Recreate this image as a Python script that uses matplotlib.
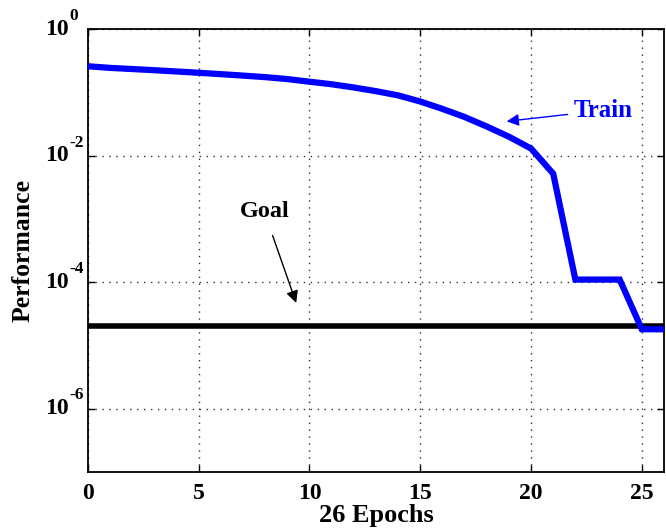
import matplotlib
matplotlib.use("Agg")
import matplotlib.pyplot as plt
from matplotlib.ticker import FixedLocator, NullLocator
from matplotlib.transforms import blended_transform_factory

plt.rcParams['font.family'] = ['Liberation Serif', 'DejaVu Serif']
plt.rcParams['font.weight'] = 'bold'

# training performance per epoch
epochs = list(range(27))
train = [0.26, 0.245, 0.235, 0.225, 0.215, 0.205, 0.195, 0.185, 0.175, 0.163,
         0.148, 0.135, 0.12, 0.105, 0.09, 0.072, 0.055, 0.041, 0.029, 0.020,
         0.013, 0.0052, 1.1e-4, 1.1e-4, 1.1e-4, 1.8e-5, 1.8e-5]
goal = 2e-5

xticks = [0, 5, 10, 15, 20, 25]
yticks = [1e-6, 1e-4, 1e-2, 1e0]
yexp = ['-6', '-4', '-2', '0']

fig = plt.figure(figsize=(6.66, 5.32), dpi=100)
ax = fig.add_axes([0.132, 0.113, 0.865, 0.832])

ax.axhline(goal, color='black', lw=4, zorder=2)
ax.semilogy(epochs, train, color='#0000ff', lw=4.5, zorder=3, solid_joinstyle='miter')

ax.set_xlim(0, 26)
ax.set_ylim(1e-7, 1e0)
ax.xaxis.set_major_locator(FixedLocator(xticks))
ax.yaxis.set_major_locator(FixedLocator(yticks))
ax.yaxis.set_minor_locator(NullLocator())
ax.set_xticklabels([str(t) for t in xticks])
ax.set_yticklabels([])
ax.tick_params(direction='in', top=True, right=True, length=5, width=1,
               labelsize=17, pad=8)
for lab in ax.get_xticklabels():
    lab.set_fontweight('bold')

# MATLAB-style "10" with raised exponent
trans = blended_transform_factory(ax.transAxes, ax.transData)
for v, e in zip(yticks, yexp):
    ax.annotate('10', xy=(0, v), xycoords=trans, xytext=(-13.5, 0),
                textcoords='offset points', ha='right', va='center',
                fontsize=17, fontweight='bold', annotation_clip=False)
    ax.annotate(e, xy=(0, v), xycoords=trans, xytext=(-13, 9.5),
                textcoords='offset points', ha='left', va='center',
                fontsize=12.5, fontweight='bold', annotation_clip=False)

ax.grid(True, which='major', linestyle=(0, (1, 4)), color='#333333', lw=1)
for s in ax.spines.values():
    s.set_linewidth(1.3)

ax.set_xlabel('26 Epochs', fontsize=19, fontweight='bold', labelpad=0)
ax.set_ylabel('Performance', fontsize=18.5, fontweight='bold')
ax.yaxis.set_label_coords(-0.092, 0.5)

ax.annotate('Train', xy=(18.9, 0.035), xytext=(21.9, 0.052),
            color='#0000ff', fontsize=18, fontweight='bold',
            ha='left', va='center',
            arrowprops=dict(arrowstyle='-|>', color='#0000ff', lw=1,
                            mutation_scale=18, shrinkA=2, shrinkB=0))
ax.annotate('Goal', xy=(9.4, 4.7e-5), xytext=(7.96, 1.3e-3),
            color='black', fontsize=17.5, fontweight='bold',
            ha='center', va='center',
            arrowprops=dict(arrowstyle='-|>', color='black', lw=1,
                            mutation_scale=18, shrinkA=8, shrinkB=0))

fig.savefig('out.png', dpi=100)
